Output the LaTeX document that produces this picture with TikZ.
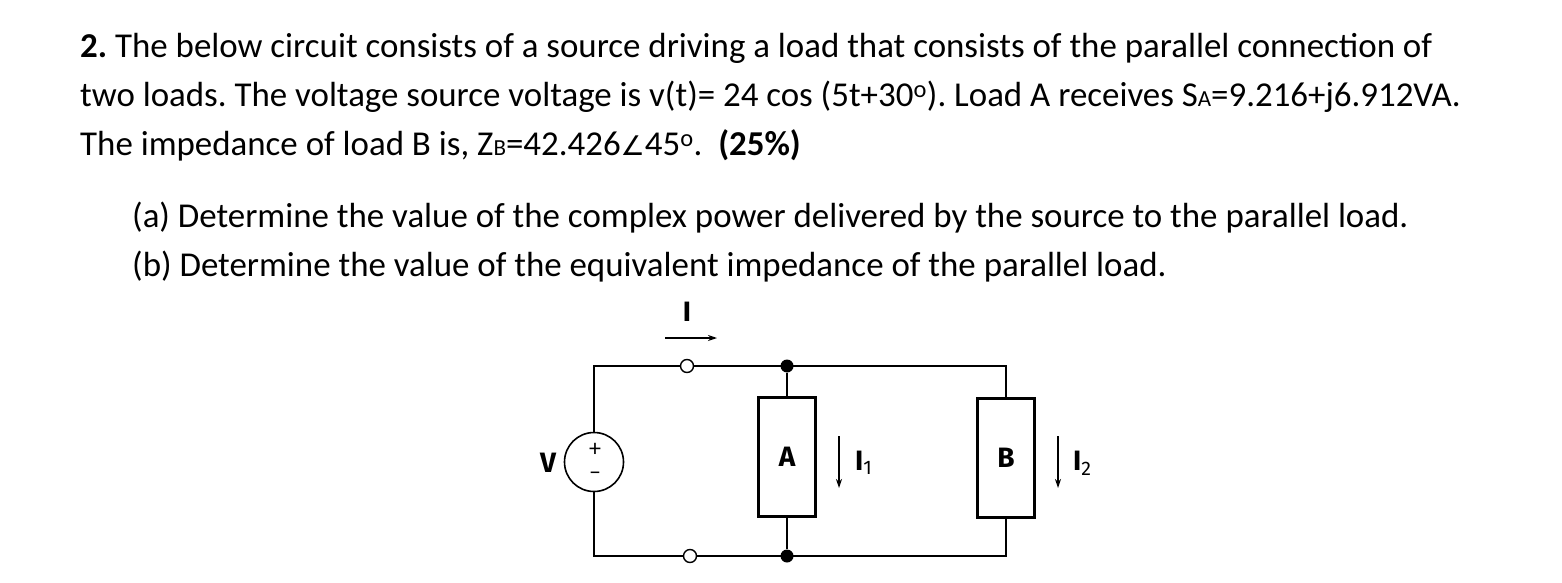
\documentclass[tikz,border=0pt]{standalone}
\usepackage{fontspec}
\setmainfont{Carlito}
\newfontfamily\djv{DejaVu Sans}
\newfontfamily\fira{Fira Sans}
\usetikzlibrary{arrows.meta}
\begin{document}
\frenchspacing
\begin{tikzpicture}[x=1pt,y=-1pt,
 txt/.style={anchor=west,inner sep=0,font=\fontsize{34.9}{40}\selectfont},
 w/.style={line width=1.6pt},
 lbl/.style={font=\fira\bfseries\fontsize{28}{30}\selectfont,inner sep=0},
 box/.style={draw,line width=2.2pt,minimum width=57,minimum height=119,inner sep=0,font=\fira\bfseries\fontsize{28}{30}\selectfont},
 oc/.style={circle,draw,fill=white,line width=1.4pt,minimum size=13,inner sep=0},
 dot/.style={circle,fill=black,minimum size=13,inner sep=0},
 cur/.style={line width=1.4pt,-{Stealth[length=9pt,width=6pt]}}]
\useasboundingbox (0,0) rectangle (1562,583);
\node[txt] (l1) at (80,48) {\textbf{2.} The below circuit consists of a source driving a load that consists of the parallel connection of};
\node[txt] (l2) at (80,97) {two loads. The voltage source voltage is v(t)= 24 cos (5t+30\textsuperscript{o}). Load A receives S{\fontsize{23}{26}\selectfont A}=9.216+j6.912VA.};
\node[txt] (l3) at (80,145) {The impedance of load B is, Z{\fontsize{23}{26}\selectfont B}=42.426{\djv\fontsize{27}{30}\selectfont ∠}45\textsuperscript{o}.\ \ \textbf{(25\%)}};
\node[txt] (la) at (132,218) {(a) Determine the value of the complex power delivered by the source to the parallel load.};
\node[txt] (lb) at (132,267) {(b) Determine the value of the equivalent impedance of the parallel load.};
% circuit
\coordinate (tl) at (594,366); \coordinate (bl) at (594,556);
\coordinate (tr) at (1006,366); \coordinate (br) at (1006,556);
\node[circle,draw,line width=1.6pt,minimum size=59,inner sep=0] (src) at (594,462) {};
\node[box] (A) at (787,457) {A};
\node[box] (B) at (1006,458) {B};
\node[dot] (nt) at (787,366) {};
\node[dot] (nb) at (787,556) {};
\draw[w] (src.north) -- (tl) -- (tr) -- (B.north);
\draw[w] (src.south) -- (bl) -- (br) -- (B.south);
\draw[w] (nt) -- (A.north);
\draw[w] (nb) -- (A.south);
\node[oc] (ot) at (687,366) {};
\node[oc] (ob) at (690,556) {};
\node[font=\fontsize{24}{26}\selectfont,inner sep=0] (plus) at (595,450) {+};
\node[font=\fontsize{24}{26}\selectfont,inner sep=0] (minus) at (595,476) {--};
\node[lbl] (V) at (548,463) {V};
\node[lbl] (I) at (687,312) {I};
\coordinate (ia) at (665,338); \coordinate (ib) at (717,338);
\draw[cur] (ia) -- (ib);
\coordinate (a1) at (839,436); \coordinate (a2) at (839,488);
\draw[cur] (a1) -- (a2);
\node[lbl,anchor=west] (I1) at (855,463) {I\textsubscript{\mdseries 1}};
\coordinate (b1) at (1058,436); \coordinate (b2) at (1058,488);
\draw[cur] (b1) -- (b2);
\node[lbl,anchor=west] (I2) at (1073,463) {I\textsubscript{\mdseries 2}};
\end{tikzpicture}
\end{document}
